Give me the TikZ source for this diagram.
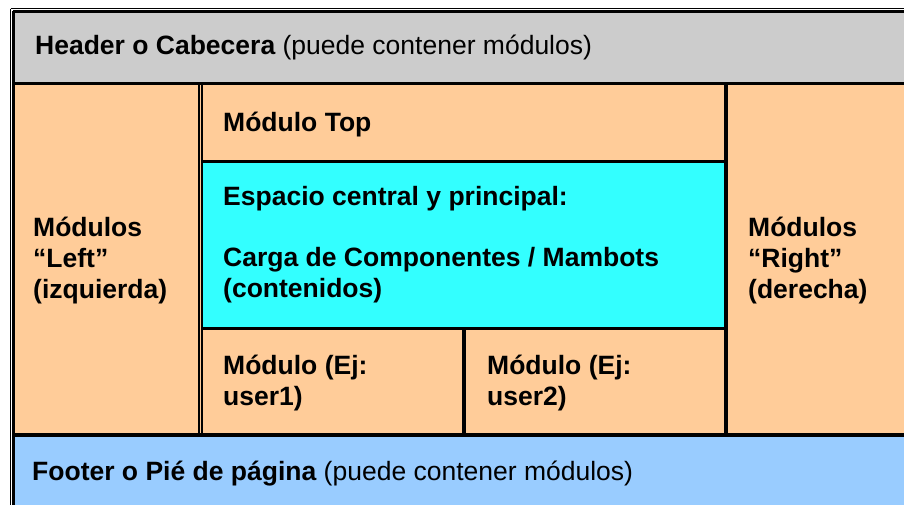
\documentclass[tikz,border=0pt]{standalone}
\usepackage{fontspec}
\setmainfont{Liberation Sans}
\definecolor{hdrgray}{HTML}{CCCCCC}
\definecolor{modorange}{HTML}{FFCC99}
\definecolor{maincyan}{HTML}{33FFFF}
\definecolor{ftrblue}{HTML}{99CCFF}
\begin{document}
\begin{tikzpicture}[x=1pt,y=-1pt,
  lbl/.style={anchor=base west,inner sep=0pt,align=left,font=\fontsize{26.5}{31}\selectfont\bfseries},
  rule/.style={black,line width=3pt},
  thinrule/.style={black,line width=1.3pt}]
\useasboundingbox (0,0) rectangle (904,505);
\fill[white] (0,0) rectangle (904,505);
% fills
\fill[hdrgray] (12,11) rectangle (904,84);
\fill[modorange] (12,84) rectangle (904,435);
\fill[maincyan] (201,161) rectangle (726,329);
\fill[ftrblue] (12,435) rectangle (904,505);
% outer border
\draw[thinrule] (10.6,8.6) -- (904,8.6);
\draw[thinrule] (10.6,8.6) -- (10.6,505);
\draw[rule,line width=2.6pt] (13.2,11.4) -- (904,11.4);
\draw[rule,line width=2.6pt] (13.2,11.4) -- (13.2,505);
% inner lines
\draw[rule] (12,83.5) -- (904,83.5);
\draw[rule,line width=2pt] (199,84) -- (199,435);
\draw[rule,line width=2pt] (202,84) -- (202,435);
\draw[rule] (201,161.5) -- (726,161.5);
\draw[rule] (201,328.5) -- (726,328.5);
\draw[rule,line width=3.6pt] (464,328) -- (464,435);
\draw[rule,line width=3.6pt] (726,83) -- (726,435);
\draw[rule,line width=3.6pt] (12,435) -- (904,435);
% texts (multi-line nodes: base = last line's baseline)
\node[lbl] (header) at (35,55) {Header o Cabecera \mdseries(puede contener módulos)};
\node[lbl] (left) at (33,298) {Módulos\\“Left”\\(izquierda)};
\node[lbl] (top) at (223,132) {Módulo Top};
\node[lbl] (central) at (223,205) {Espacio central y principal:};
\node[lbl] (carga) at (223,297) {Carga de Componentes / Mambots\\(contenidos)};
\node[lbl] (user1) at (223,405) {Módulo (Ej:\\user1)};
\node[lbl] (user2) at (487,405) {Módulo (Ej:\\user2)};
\node[lbl] (right) at (748,298) {Módulos\\“Right”\\(derecha)};
\node[lbl] (footer) at (32,480) {Footer o Pié de página \mdseries(puede contener módulos)};
\end{tikzpicture}
\end{document}
